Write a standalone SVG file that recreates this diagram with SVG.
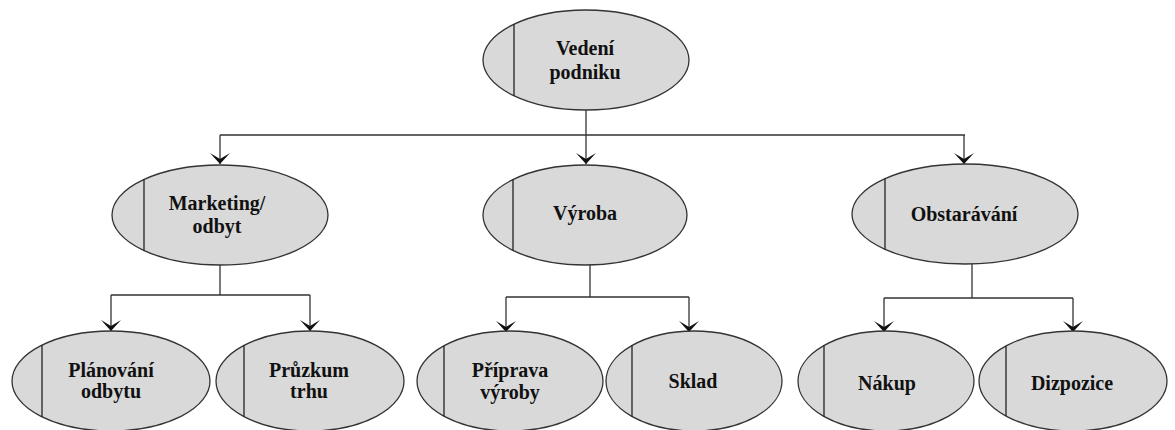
<svg xmlns="http://www.w3.org/2000/svg" width="1175" height="430" viewBox="0 0 1175 430">
  <style>
    .box { fill: #d9d9d9; stroke: #333; stroke-width: 1.3; }
    .div { stroke: #222; stroke-width: 1.3; fill: none; }
    .lbl { font-family: "Liberation Serif", "Times New Roman", serif; font-weight: bold; font-size: 20px; fill: #111; text-anchor: middle; }
    .wire { stroke: #333; stroke-width: 1.3; fill: none; }
  </style>
  <defs>
    <marker id="arrow" markerUnits="userSpaceOnUse" markerWidth="24" markerHeight="24" viewBox="-12 -12 24 24" refX="0" refY="0" orient="auto" overflow="visible">
      <path d="M0,0 L-11,-10 L-5,0 L-11,10 Z" fill="#111"/>
    </marker>
  </defs>
  <rect width="1175" height="430" fill="#fff"/>

  <!-- connectors -->
  <g id="connectors">
    <path class="wire" d="M586,110 V135 M220,135 H965"/>
    <path class="wire" d="M220,135 V164" marker-end="url(#arrow)"/>
    <path class="wire" d="M586,135 V164" marker-end="url(#arrow)"/>
    <path class="wire" d="M964,135 V164" marker-end="url(#arrow)"/>

    <path class="wire" d="M220,265 V295 M111,295 H310"/>
    <path class="wire" d="M111,295 V331" marker-end="url(#arrow)"/>
    <path class="wire" d="M310,295 V331" marker-end="url(#arrow)"/>

    <path class="wire" d="M590,265 V297 M506,297 H689"/>
    <path class="wire" d="M506,297 V332" marker-end="url(#arrow)"/>
    <path class="wire" d="M689,297 V332" marker-end="url(#arrow)"/>

    <path class="wire" d="M972,264 V298 M884,298 H1073"/>
    <path class="wire" d="M884,298 V332" marker-end="url(#arrow)"/>
    <path class="wire" d="M1073,298 V332" marker-end="url(#arrow)"/>
  </g>

  <g id="vedeni">
    <ellipse class="box" cx="586" cy="60" rx="103" ry="50"/>
    <line class="div" x1="514" y1="24.3" x2="514" y2="95.7"/>
    <text class="lbl" x="585" y="55">Vedení</text>
    <text class="lbl" x="585" y="79">podniku</text>
  </g>

  <g id="marketing">
    <ellipse class="box" cx="220" cy="215" rx="108" ry="50"/>
    <line class="div" x1="144" y1="179.5" x2="144" y2="250.5"/>
    <text class="lbl" x="217" y="210">Marketing/</text>
    <text class="lbl" x="217" y="233">odbyt</text>
  </g>

  <g id="vyroba">
    <ellipse class="box" cx="585" cy="215" rx="102" ry="50"/>
    <line class="div" x1="513" y1="179.6" x2="513" y2="250.4"/>
    <text class="lbl" x="585" y="220">Výroba</text>
  </g>

  <g id="obstaravani">
    <ellipse class="box" cx="965" cy="214" rx="113" ry="50"/>
    <line class="div" x1="885" y1="178.7" x2="885" y2="249.3"/>
    <text class="lbl" x="964" y="221">Obstarávání</text>
  </g>

  <g id="planovani">
    <ellipse class="box" cx="111" cy="381" rx="99" ry="50"/>
    <line class="div" x1="42" y1="345" x2="42" y2="417"/>
    <text class="lbl" x="111" y="377">Plánování</text>
    <text class="lbl" x="111" y="398">odbytu</text>
  </g>

  <g id="pruzkum">
    <ellipse class="box" cx="310" cy="381" rx="94" ry="50"/>
    <line class="div" x1="244" y1="345.4" x2="244" y2="416.6"/>
    <text class="lbl" x="309" y="377">Průzkum</text>
    <text class="lbl" x="309" y="398">trhu</text>
  </g>

  <g id="priprava">
    <ellipse class="box" cx="510" cy="381" rx="93" ry="50"/>
    <line class="div" x1="444" y1="345.8" x2="444" y2="416.2"/>
    <text class="lbl" x="510" y="377">Příprava</text>
    <text class="lbl" x="510" y="399">výroby</text>
  </g>

  <g id="sklad">
    <ellipse class="box" cx="694" cy="381" rx="88" ry="50"/>
    <line class="div" x1="632" y1="345.5" x2="632" y2="416.5"/>
    <text class="lbl" x="693" y="388">Sklad</text>
  </g>

  <g id="nakup">
    <ellipse class="box" cx="886" cy="381" rx="88" ry="50"/>
    <line class="div" x1="824" y1="345.5" x2="824" y2="416.5"/>
    <text class="lbl" x="887" y="390">Nákup</text>
  </g>

  <g id="dizpozice">
    <ellipse class="box" cx="1073" cy="381" rx="94" ry="50"/>
    <line class="div" x1="1006" y1="345.9" x2="1006" y2="416.1"/>
    <text class="lbl" x="1072" y="390">Dizpozice</text>
  </g>
</svg>
